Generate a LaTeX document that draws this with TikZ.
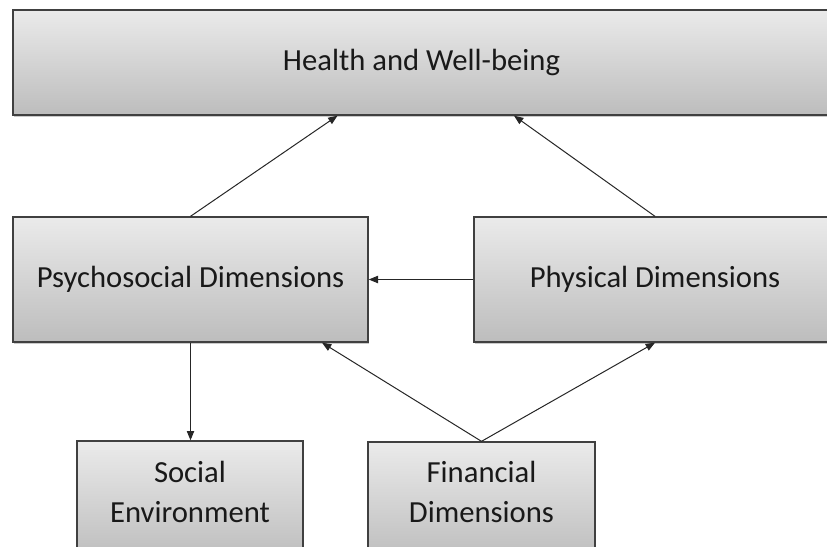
\documentclass[tikz,border=0pt]{standalone}
\usepackage{fontspec}
\setmainfont{Carlito}
\usetikzlibrary{arrows.meta,shadows,calc}
\begin{document}
\begin{tikzpicture}[x=0.75pt,y=-0.75pt,
  box/.style={rectangle, draw=black!75, line width=1pt, inner sep=0pt,
    top color=black!8, bottom color=black!26,
    drop shadow={shadow xshift=0.6pt, shadow yshift=-1.2pt, opacity=0.35, fill=black!60}},
  lbl/.style={font=\fontsize{23}{30}\selectfont, text=black!90, align=center},
  conn/.style={draw=black!85, line width=0.75pt, -{Triangle[length=7pt,width=5.5pt]}}]
\useasboundingbox (0,0) rectangle (827,546);
\begin{scope}
\clip (0,0) rectangle (827,546);
% boxes
\node[box, lbl, minimum width=612.75pt, minimum height=78.75pt] (health) at (421.5,62.5) {Health and Well-being};
\node[box, lbl, minimum width=266.25pt, minimum height=93.75pt] (psy) at (190.5,279.5) {Psychosocial Dimensions};
\node[box, lbl, minimum width=271.5pt, minimum height=93.75pt] (phys) at (655,279.5) {Physical Dimensions};
\node[box, minimum width=169.5pt, minimum height=89.25pt] (soc) at (190,500.5) {};
\node[box, minimum width=170.25pt, minimum height=89.25pt] (fin) at (481.5,501.5) {};
\node[lbl] (soctext) at (190,492) {Social\\Environment};
\node[lbl] (fintext) at (481.5,492) {Financial\\Dimensions};
\end{scope}
% connectors
\draw[conn] (psy.north) -- ($(health.south)+(-84,0)$);
\draw[conn] (phys.north) -- ($(health.south)+(92.5,0)$);
\draw[conn] (phys.west) -- (psy.east);
\draw[conn] (psy.south) -- (psy.south |- soc.north);
\draw[conn] (fin.north) -- ($(psy.south)+(131.5,0)$);
\draw[conn] (fin.north) -- (phys.south);
\end{tikzpicture}
\end{document}
